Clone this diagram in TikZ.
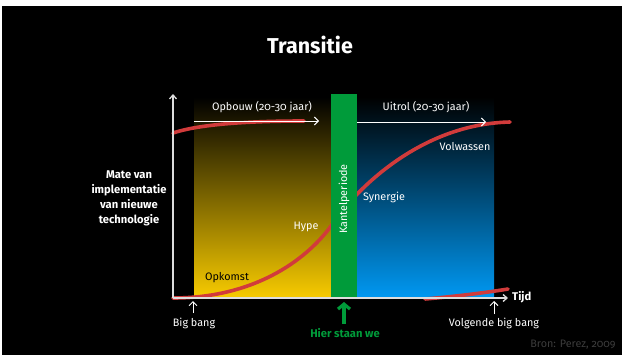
\documentclass[tikz,border=0pt]{standalone}
\usepackage{fontspec}
\setmainfont{Fira Sans}[Numbers=OldStyle]
\usetikzlibrary{arrows.meta}
\definecolor{redc}{HTML}{D13B3B}
\definecolor{greenc}{HTML}{009B3A}
\definecolor{yellowc}{HTML}{F8CB00}
\definecolor{bluec}{HTML}{0098F2}
\definecolor{axisc}{HTML}{DDDDDD}
\definecolor{bronc}{HTML}{3C3C3C}
\tikzset{
  lbl/.style={inner sep=0pt, text=white, font=\fontsize{10.8}{12}\selectfont},
  blbl/.style={lbl, font=\fontsize{11.2}{15}\selectfont\bfseries, align=center},
  axisline/.style={draw=axisc, line width=1.3pt, -{Straight Barb[length=4pt,width=7pt]}},
  phasearrow/.style={draw=white, line width=1pt, -{Straight Barb[length=4pt,width=8pt]}},
  uparrow/.style={draw=white, line width=0.9pt, -{Straight Barb[length=4pt,width=8pt]}},
  redcurve/.style={draw=redc, line width=3.6pt, line cap=round},
}
\begin{document}
\begin{tikzpicture}[x=1pt,y=-1pt]
\useasboundingbox (0,0) rectangle (623,356);
\fill[white] (0,0) rectangle (623,356);
\fill[black] (2,6) rectangle (622,355);
% phase backgrounds
\shade[top color=black, bottom color=yellowc] (194,97) rectangle (331,298);
\shade[top color=black, bottom color=bluec] (357,97) rectangle (494,298);
% coordinates
\coordinate (O) at (173,298);
\coordinate (ytop) at (173,94);
\coordinate (xend) at (508,298);
\coordinate (c1a) at (173,298);
\coordinate (c1b) at (331,226);
\coordinate (c1c) at (510,122);
\coordinate (c2a) at (173,133);
\coordinate (c2b) at (304,121);
\coordinate (c3a) at (425,299);
\coordinate (c3b) at (508,289);
% red curves
\draw[redcurve] (c1a) .. controls (260,298) and (310,255) .. (c1b)
  .. controls (355,190) and (420,124) .. (c1c);
\draw[redcurve] (c2a) .. controls (200,124) and (250,121) .. (c2b);
\draw[redcurve] (c3a) .. controls (460,296) and (490,292) .. (c3b);
% kantelperiode bar
\fill[greenc] (331,94) rectangle (357,298);
\node[lbl, rotate=90] (kantel) at (344,199) {Kantelperiode};
% axes
\draw[axisline] (O) -- (ytop);
\draw[axisline] (O) -- (xend);
\node[blbl, anchor=west] (tijd) at (512,297) {Tijd};
% phase arrows
\coordinate (opA) at (194,121);
\coordinate (opB) at (319,121);
\coordinate (uiA) at (357,122);
\coordinate (uiB) at (486,122);
\draw[phasearrow] (opA) -- (opB);
\draw[phasearrow] (uiA) -- (uiB);
\node[lbl] (opbouw) at (262,107) {Opbouw (20-30 jaar)};
\node[lbl] (uitrol) at (426,107) {Uitrol (20-30 jaar)};
% curve labels
\node[lbl] (volw) at (465,147) {Volwassen};
\node[lbl] (syn) at (384,197) {Synergie};
\node[lbl] (hype) at (306,227) {Hype};
\node[lbl, text=black] (opk) at (227,278) {Opkomst};
% bottom labels
\node[lbl] (bb) at (194,323) {Big bang};
\node[lbl] (vbb) at (494,323) {Volgende big bang};
\coordinate (bbA) at (193,313);
\coordinate (bbB) at (193,301);
\coordinate (vbA) at (494,314);
\coordinate (vbB) at (494,301);
\draw[uparrow] (bbA) -- (bbB);
\draw[uparrow] (vbA) -- (vbB);
\node[blbl, text=greenc] (hier) at (345,333) {Hier staan we};
\coordinate (hsA) at (344,324);
\coordinate (hsB) at (344,302);
\draw[draw=greenc, line width=3.2pt, -{Straight Barb[length=5pt,width=12pt]}] (hsA) -- (hsB);
% y label
\node[blbl] (ylab) at (129,198) {Mate van\\implementatie\\van nieuwe\\technologie};
% title
\node[lbl, font=\fontsize{21.5}{24}\selectfont\bfseries] (title) at (310,45) {Transitie};
% source
\node[lbl, text=bronc] (bron) at (573,345) {Bron: Perez, 2009};
\end{tikzpicture}
\end{document}
